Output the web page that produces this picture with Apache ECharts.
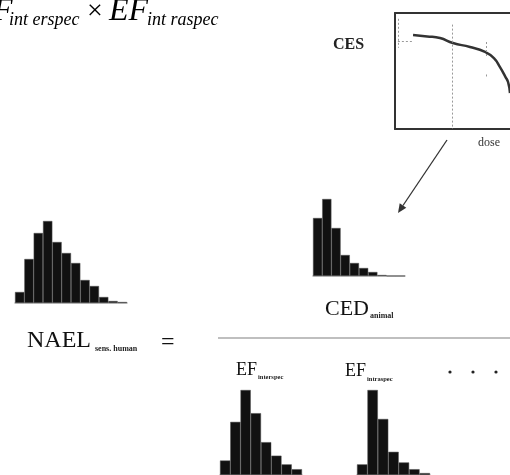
<!DOCTYPE html>
<html>
<head>
<meta charset="utf-8">
<script src="https://cdn.jsdelivr.net/npm/echarts@6/dist/echarts.min.js"></script>
<style>
  html, body { margin: 0; padding: 0; background: #fff; }
  #main { width: 510px; height: 475px; }
</style>
</head>
<body>
<div id="main"></div>
<script>
// histogram heights
var naelValues = [11, 44, 70, 82, 61, 50, 40, 23, 17, 6, 2, 1];
var cedValues = [58, 77, 48, 21, 13, 8, 4, 1, 0, 0];
var interValues = [15, 55, 88, 64, 34, 20, 11, 6];
var intraValues = [11, 88, 58, 24, 13, 6, 2];

// CES curve (dose, response) in plot units 0-100, plot runs past the right edge
var cesDose = [15.7, 28, 39.1, 50.4, 65.2, 78.3, 86, 91.3, 96, 98.3, 100];
var cesResp = [81.0, 79.8, 78.4, 74.1, 70.7, 66.4, 61, 53.4, 45, 40.5, 31];
var cesGuideX = [49.6, 79.1];

function idx(arr) {
  return arr.map(function (v, i) { return i; });
}

var serif = '"Liberation Serif", "DejaVu Serif", serif';

function histAxis(gi, data) {
  return {
    type: 'category', gridIndex: gi, data: data,
    axisTick: { show: false }, axisLabel: { show: false },
    axisLine: { show: true, lineStyle: { color: '#aaa', width: 1.5 } }
  };
}
function histY(gi, max) {
  return { type: 'value', gridIndex: gi, min: 0, max: max, show: false, splitLine: { show: false } };
}
function histBar(gi, values) {
  return {
    type: 'bar', xAxisIndex: gi, yAxisIndex: gi, data: values,
    barCategoryGap: '0%', silent: true,
    itemStyle: { color: '#111', borderColor: '#555', borderWidth: 0.5 }
  };
}
function frameAxis(gi, pos) {
  return {
    type: 'value', gridIndex: gi, position: pos, min: 0, max: 100,
    axisTick: { show: false }, axisLabel: { show: false }, splitLine: { show: false },
    axisLine: { show: true, lineStyle: { color: '#333', width: 2 } }
  };
}

var chart = echarts.init(document.getElementById('main'));

var option = {
  animation: false,
  backgroundColor: '#fff',
  grid: [
    { left: 15, top: 221, width: 112, height: 82 },
    { left: 313, top: 199, width: 92, height: 77 },
    { left: 220, top: 390, width: 82, height: 88 },
    { left: 357, top: 390, width: 73, height: 88 },
    { left: 395, top: 13, right: 0, height: 116 }
  ],
  xAxis: [
    histAxis(0, idx(naelValues)),
    histAxis(1, idx(cedValues)),
    histAxis(2, idx(interValues)),
    histAxis(3, idx(intraValues)),
    frameAxis(4, 'bottom'),
    frameAxis(4, 'top')
  ],
  yAxis: [
    histY(0, 82), histY(1, 77), histY(2, 88), histY(3, 88),
    frameAxis(4, 'left')
  ],
  series: [
    histBar(0, naelValues),
    histBar(1, cedValues),
    histBar(2, interValues),
    histBar(3, intraValues),
    {
      type: 'line', xAxisIndex: 4, yAxisIndex: 4, smooth: true, showSymbol: false, silent: true,
      data: cesDose.map(function (d, i) { return [d, cesResp[i]]; }),
      lineStyle: { color: '#333', width: 2.5 },
      markLine: {
        silent: true, symbol: ['none', 'none'], label: { show: false },
        lineStyle: { color: '#999', width: 1, type: [2, 2] },
        data: [
          [{ coord: [cesGuideX[0], 90] }, { coord: [cesGuideX[0], 0] }],
          [{ coord: [2.5, 75.9] }, { coord: [15.7, 75.9] }],
          [{ coord: [cesGuideX[1], 75] }, { coord: [cesGuideX[1], 62] }],
          [{ coord: [cesGuideX[1], 47] }, { coord: [cesGuideX[1], 45] }],
          [{ coord: [2.5, 95] }, { coord: [2.5, 70] }]
        ]
      }
    }
  ],
  graphic: [
    // top formula
    { type: 'text', x: -7, y: 12, style: { text: 'F', font: 'italic 32px ' + serif, fill: '#000', verticalAlign: 'middle' } },
    { type: 'text', x: 9, y: 20, style: { text: 'int erspec', font: 'italic 18px ' + serif, fill: '#000', verticalAlign: 'middle' } },
    { type: 'text', x: 87, y: 12, style: { text: '×', font: '28px ' + serif, fill: '#000', verticalAlign: 'middle' } },
    { type: 'text', x: 109, y: 12, style: { text: 'EF', font: 'italic 32px ' + serif, fill: '#000', verticalAlign: 'middle' } },
    { type: 'text', x: 147, y: 20, style: { text: 'int raspec', font: 'italic 18px ' + serif, fill: '#000', verticalAlign: 'middle' } },

    // CES plot labels
    { type: 'text', x: 333, y: 45, style: { text: 'CES', font: 'bold 16px ' + serif, fill: '#222', verticalAlign: 'middle' } },
    { type: 'text', x: 478, y: 143, style: { text: 'dose', font: '12px ' + serif, fill: '#333', verticalAlign: 'middle' } },

    // arrow
    { type: 'line', shape: { x1: 447, y1: 140, x2: 403, y2: 205.5 }, style: { stroke: '#333', lineWidth: 1.3 } },
    { type: 'polygon', shape: { points: [[398, 213], [406.3, 207.7], [399.7, 203.3]] }, style: { fill: '#333' } },

    // equation
    { type: 'text', x: 325, y: 309, style: { text: 'CED', font: '22px ' + serif, fill: '#111', verticalAlign: 'middle' } },
    { type: 'text', x: 370, y: 316, style: { text: 'animal', font: 'bold 8px ' + serif, fill: '#222', verticalAlign: 'middle' } },
    { type: 'text', x: 27, y: 341, style: { text: 'NAEL', font: '24px ' + serif, fill: '#111', verticalAlign: 'middle' } },
    { type: 'text', x: 95, y: 349, style: { text: 'sens. human', font: 'bold 8px ' + serif, fill: '#222', verticalAlign: 'middle' } },
    { type: 'text', x: 161, y: 343, style: { text: '=', font: '24px ' + serif, fill: '#111', verticalAlign: 'middle' } },
    { type: 'line', shape: { x1: 218, y1: 338, x2: 510, y2: 338 }, style: { stroke: '#aaa', lineWidth: 1.5 } },

    { type: 'text', x: 236, y: 370, style: { text: 'EF', font: '18px ' + serif, fill: '#111', verticalAlign: 'middle' } },
    { type: 'text', x: 258, y: 377, style: { text: 'interspec', font: 'bold 6.5px ' + serif, fill: '#222', verticalAlign: 'middle' } },
    { type: 'text', x: 345, y: 371, style: { text: 'EF', font: '18px ' + serif, fill: '#111', verticalAlign: 'middle' } },
    { type: 'text', x: 367, y: 379, style: { text: 'intraspec', font: 'bold 6.5px ' + serif, fill: '#222', verticalAlign: 'middle' } },
    { type: 'circle', shape: { cx: 450, cy: 372, r: 1.6 }, style: { fill: '#222' } },
    { type: 'circle', shape: { cx: 473, cy: 372, r: 1.6 }, style: { fill: '#222' } },
    { type: 'circle', shape: { cx: 496, cy: 372, r: 1.6 }, style: { fill: '#222' } }
  ]
};

chart.setOption(option);
</script>
</body>
</html>
